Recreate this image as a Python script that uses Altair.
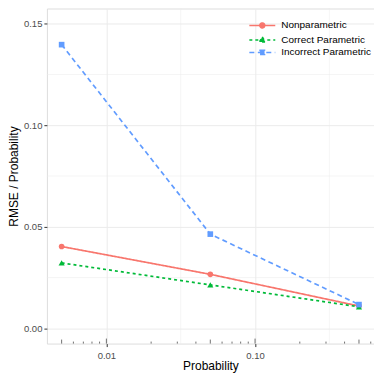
import altair as alt
import pandas as pd

# ---- data ----
probability = [0.005, 0.05, 0.5]
series_names = ["Nonparametric", "Correct Parametric", "Incorrect Parametric"]
nonparametric = [0.0403, 0.0266, 0.0110]
correct_parametric = [0.0322, 0.0214, 0.0106]
incorrect_parametric = [0.1397, 0.0464, 0.0117]

x_major = [0.01, 0.1]
x_minor_grid = [0.0316, 0.316]
y_major = [0.0, 0.05, 0.10, 0.15]
y_minor_grid = [0.025, 0.075, 0.125]
logticks_long = [0.01, 0.1]
logticks_mid = [0.005, 0.05, 0.5]
logticks_short = [0.006, 0.007, 0.008, 0.009, 0.02, 0.03, 0.04, 0.06, 0.07,
                  0.08, 0.09, 0.2, 0.3, 0.4, 0.6]

colors = ["#F8766D", "#00BA38", "#619CFF"]
dashes = [[1, 0], [3, 3], [5, 3.5]]
shapes = ["circle", "triangle-up", "square"]

rows = []
for name, vals in zip(series_names, [nonparametric, correct_parametric, incorrect_parametric]):
    for p, v in zip(probability, vals):
        rows.append({"Probability": p, "value": v, "series": name})
df = pd.DataFrame(rows)

W, H = 328, 336
FONT = "Liberation Sans"

xscale = alt.Scale(type="log", domain=[0.00398, 0.631], nice=False)
yscale = alt.Scale(domain=[-0.0075, 0.1575], nice=False, zero=False)

xaxis = alt.Axis(values=x_major, format=".2f", title="Probability", grid=True,
                 gridColor="#ebebeb", gridWidth=1, domain=False, tickColor="#333333",
                 tickSize=3, tickWidth=1, labelPadding=4, labelFontSize=9.5,
                 labelColor="#4d4d4d", titleFontSize=12, titleFontWeight="normal",
                 titleColor="#000000", titlePadding=0, labelFont=FONT, titleFont=FONT)
yaxis = alt.Axis(values=y_major, format=".2f", title="RMSE / Probability", grid=True,
                 gridColor="#ebebeb", gridWidth=1, domain=False, tickColor="#333333",
                 tickSize=3, tickWidth=1, labelPadding=2, labelFontSize=9.5,
                 labelColor="#4d4d4d", titleFontSize=12, titleFontWeight="normal",
                 titleColor="#000000", titlePadding=3, labelFont=FONT, titleFont=FONT)

# legend glyphs: a line segment with the series marker in its middle
legend_glyphs = [
    "M-2.6,0L2.6,0M-0.5,0A0.5,0.5,0,1,0,0.5,0A0.5,0.5,0,1,0,-0.5,0Z",
    "M-2.6,0L2.6,0M0,-0.62L0.58,0.4L-0.58,0.4Z",
    "M-2.6,0L2.6,0M-0.45,-0.45L0.45,-0.45L0.45,0.45L-0.45,0.45Z",
]

legend = alt.Legend(
    title=None, orient="none", legendX=210, legendY=11, labelFontSize=10,
    labelFont=FONT, labelColor="#000000", symbolSize=100, symbolStrokeWidth=1.5,
    symbolOpacity=1, labelOffset=13, rowPadding=1.5, padding=0,
)

X = alt.X("Probability:Q", scale=xscale, axis=xaxis)
Y = alt.Y("value:Q", scale=yscale, axis=yaxis)
dash_scale = alt.Scale(domain=series_names, range=dashes)
color_scale = alt.Scale(domain=series_names, range=colors)

base = alt.Chart(df)

minor_x = alt.Chart(pd.DataFrame({"v": x_minor_grid})).mark_rule(
    color="#ebebeb", strokeWidth=0.5).encode(x=alt.X("v:Q", scale=xscale, axis=xaxis))
minor_y = alt.Chart(pd.DataFrame({"v": y_minor_grid})).mark_rule(
    color="#ebebeb", strokeWidth=0.5).encode(y=alt.Y("v:Q", scale=yscale, axis=yaxis))

line_layers, point_layers = [], []
for name, shp, col, dsh in zip(series_names, shapes, colors, dashes):
    sub = base.transform_filter(alt.datum.series == name)
    line_layers.append(sub.mark_line(strokeWidth=1.7, color=col, strokeDash=dsh).encode(x=X, y=Y))
    point_layers.append(sub.mark_point(filled=True, size=38 if shp == "triangle-up" else 32,
                                       opacity=1, shape=shp, color=col).encode(x=X, y=Y))

# invisible layer that only carries the legend
legend_layer = base.mark_point(opacity=0, size=1).encode(
    x=X, y=Y,
    fill=alt.Fill("series:N", scale=color_scale, legend=legend),
    stroke=alt.Stroke("series:N", scale=color_scale, legend=legend),
    strokeDash=alt.StrokeDash("series:N", scale=dash_scale, legend=legend),
    shape=alt.Shape("series:N", scale=alt.Scale(domain=series_names, range=legend_glyphs), legend=legend),
)

def logtick_layer(vals, length):
    return alt.Chart(pd.DataFrame({"t": vals})).mark_rule(color="#333333", strokeWidth=0.7).encode(
        x=alt.X("t:Q", scale=xscale, axis=xaxis),
        y=alt.value(H), y2=alt.value(H - length))

chart = alt.layer(
    minor_x, minor_y, *line_layers, *point_layers, legend_layer,
    logtick_layer(logticks_short, 2), logtick_layer(logticks_mid, 4), logtick_layer(logticks_long, 5),
).properties(
    width=W, height=H,
    autosize=alt.AutoSizeParams(type="none"),
    padding={"left": 39, "top": 0, "right": 0, "bottom": 29},
).configure_view(stroke="#333333", strokeWidth=1).configure(background="white")

chart.save("out.html", embed_options={"renderer": "svg", "actions": False})
